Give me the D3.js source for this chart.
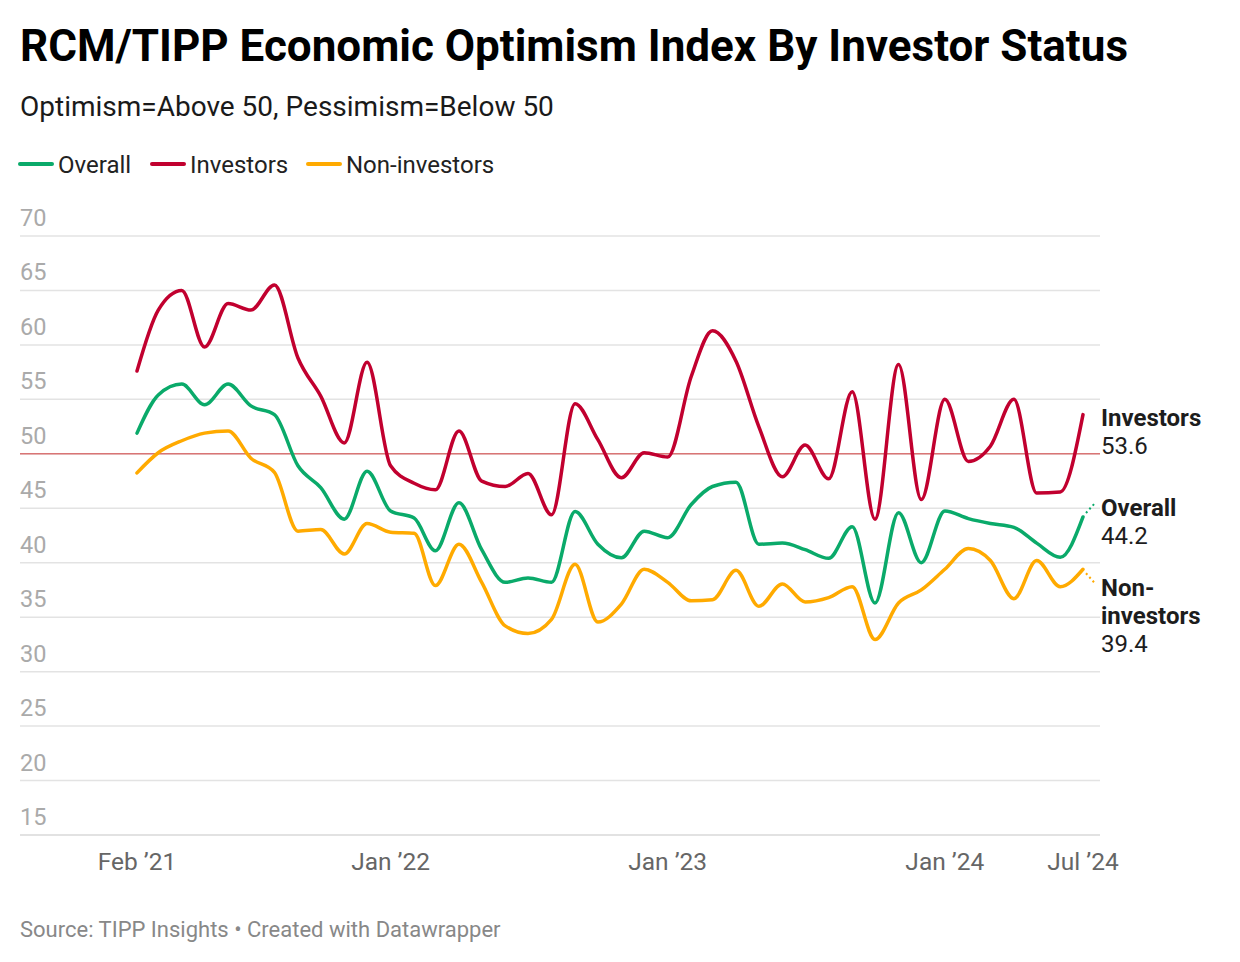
<!DOCTYPE html>
<html>
<head>
<meta charset="utf-8">
<script src="https://cdn.jsdelivr.net/npm/d3@7"></script>
<style>
  html, body { margin: 0; padding: 0; background: #fff; }
  svg { display: block; font-family: Roboto, "Noto Sans", sans-serif; }
</style>
</head>
<body>
<svg id="chart" width="1240" height="962"></svg>
<script>
// ---- data ----
const months = ["2021-02","2021-03","2021-04","2021-05","2021-06","2021-07","2021-08","2021-09","2021-10","2021-11","2021-12",
  "2022-01","2022-02","2022-03","2022-04","2022-05","2022-06","2022-07","2022-08","2022-09","2022-10","2022-11","2022-12",
  "2023-01","2023-02","2023-03","2023-04","2023-05","2023-06","2023-07","2023-08","2023-09","2023-10","2023-11","2023-12",
  "2024-01","2024-02","2024-03","2024-04","2024-05","2024-06","2024-07"];
const overall = [51.9,55.4,56.4,54.5,56.4,54.4,53.6,48.9,46.9,44.0,48.4,
  44.75,44.1,41.1,45.5,41.2,38.2,38.6,38.2,44.7,41.7,40.45,42.9,
  42.3,45.35,47.0,47.4,41.7,41.8,41.2,40.4,43.3,36.3,44.6,40.0,
  44.75,44.05,43.6,43.25,41.8,40.5,44.2];
const investors = [57.6,63.2,65.0,59.8,63.8,63.2,65.5,58.8,55.3,51.0,58.4,
  48.9,47.3,46.7,52.1,47.5,47.0,48.2,44.4,54.6,51.3,47.8,50.1,
  49.7,57.1,61.3,58.5,52.5,47.9,50.8,47.7,55.7,44.0,58.2,45.8,
  55.0,49.3,50.7,55.0,46.4,46.5,53.6];
const nonInvestors = [48.25,50.1,51.2,51.9,52.1,49.6,48.3,42.9,43.05,40.8,43.6,
  42.8,42.7,37.9,41.7,38.2,34.2,33.5,34.8,39.85,34.55,36.2,39.4,
  38.2,36.5,36.6,39.3,36.0,38.05,36.4,36.8,37.8,32.95,36.3,37.5,
  39.4,41.3,40.2,36.7,40.2,37.8,39.4];
const seriesNames = ["Overall","Investors","Non-investors"];
const seriesColors = ["#0aaa6a","#c1002f","#ffaa00"];
const yTicks = [15,20,25,30,35,40,45,50,55,60,65,70];
const xTickDates = ["2021-02","2022-01","2023-01","2024-01","2024-07"];
const xTickLabels = ["Feb \u201921","Jan \u201922","Jan \u201923","Jan \u201924","Jul \u201924"];
const refValue = 50;

// ---- setup ----
const svg = d3.select("#chart");
const parse = d3.utcParse("%Y-%m");
const dates = months.map(parse);
const x = d3.scaleUtc().domain([dates[0], dates[dates.length-1]]).range([137, 1083]);
const y = d3.scaleLinear().domain([15, 70]).range([835, 236]);

// title
svg.append("text").attr("x", 20).attr("y", 61)
  .attr("font-size", 44).attr("font-weight", 700).attr("fill", "#000")
  .attr("textLength", 1108).attr("lengthAdjust", "spacingAndGlyphs")
  .text("RCM/TIPP Economic Optimism Index By Investor Status");
svg.append("text").attr("x", 20).attr("y", 116)
  .attr("font-size", 28).attr("fill", "#1a1a1a")
  .text("Optimism=Above 50, Pessimism=Below 50");

// legend
const legendX = [20, 152, 308];
seriesNames.forEach((n, i) => {
  const g = svg.append("g").attr("transform", `translate(${legendX[i]},164)`);
  g.append("line").attr("x1", 0).attr("x2", 32).attr("y1", 0).attr("y2", 0)
    .attr("stroke", seriesColors[i]).attr("stroke-width", 4).attr("stroke-linecap", "round");
  g.append("text").attr("x", 38).attr("y", 8.5).attr("font-size", 24).attr("fill", "#222").text(n);
});

// y grid + labels
const gy = svg.append("g");
yTicks.forEach(t => {
  gy.append("line").attr("x1", 20).attr("x2", 1100).attr("y1", y(t)).attr("y2", y(t))
    .attr("stroke", t === 15 ? "#d9d9d9" : "#e3e3e3").attr("stroke-width", 1.5);
  gy.append("text").attr("x", 20).attr("y", y(t) - 10).attr("font-size", 23.5)
    .attr("fill", "#aaaaaa").text(t);
});

// reference line at 50
svg.append("line").attr("x1", 20).attr("x2", 1100).attr("y1", y(refValue)).attr("y2", y(refValue))
  .attr("stroke", "#d97575").attr("stroke-width", 1.5);

// x axis labels
xTickDates.forEach((d, i) => {
  svg.append("text").attr("x", x(parse(d))).attr("y", 870).attr("text-anchor", "middle")
    .attr("font-size", 24.5).attr("fill", "#666").text(xTickLabels[i]);
});

// lines
const line = d3.line().x((d, i) => x(dates[i])).y(d => y(d)).curve(d3.curveMonotoneX);
const allSeries = [overall, investors, nonInvestors];
[2, 0, 1].forEach(si => {
  svg.append("path").datum(allSeries[si]).attr("d", line)
    .attr("fill", "none").attr("stroke", seriesColors[si]).attr("stroke-width", 3.5)
    .attr("stroke-linejoin", "round").attr("stroke-linecap", "round");
});

// end label connectors (dotted)
const lastX = x(dates[dates.length-1]);
svg.append("line").attr("x1", lastX + 3).attr("y1", y(overall[overall.length-1]) - 4)
  .attr("x2", lastX + 12).attr("y2", y(overall[overall.length-1]) - 14)
  .attr("stroke", seriesColors[0]).attr("stroke-width", 2).attr("stroke-dasharray", "2,3");
svg.append("line").attr("x1", lastX + 3).attr("y1", y(nonInvestors[nonInvestors.length-1]) + 4)
  .attr("x2", lastX + 11).attr("y2", y(nonInvestors[nonInvestors.length-1]) + 13)
  .attr("stroke", seriesColors[2]).attr("stroke-width", 2).attr("stroke-dasharray", "2,3");

// end labels
const endLabels = [
  {lines: ["Investors"], value: investors[investors.length-1], top: 426},
  {lines: ["Overall"], value: overall[overall.length-1], top: 516},
  {lines: ["Non-", "investors"], value: nonInvestors[nonInvestors.length-1], top: 596}
];
endLabels.forEach(l => {
  const t = svg.append("text").attr("x", 1101).attr("font-size", 24).attr("fill", "#1d1d1d");
  l.lines.forEach((s, k) => {
    t.append("tspan").attr("x", 1101).attr("y", l.top + k * 28).attr("font-weight", 700).text(s);
  });
  t.append("tspan").attr("x", 1101).attr("y", l.top + l.lines.length * 28).text(l.value.toFixed(1));
});

// footer
svg.append("text").attr("x", 20).attr("y", 937).attr("font-size", 22).attr("fill", "#888")
  .text("Source: TIPP Insights \u2022 Created with Datawrapper");
</script>
</body>
</html>
